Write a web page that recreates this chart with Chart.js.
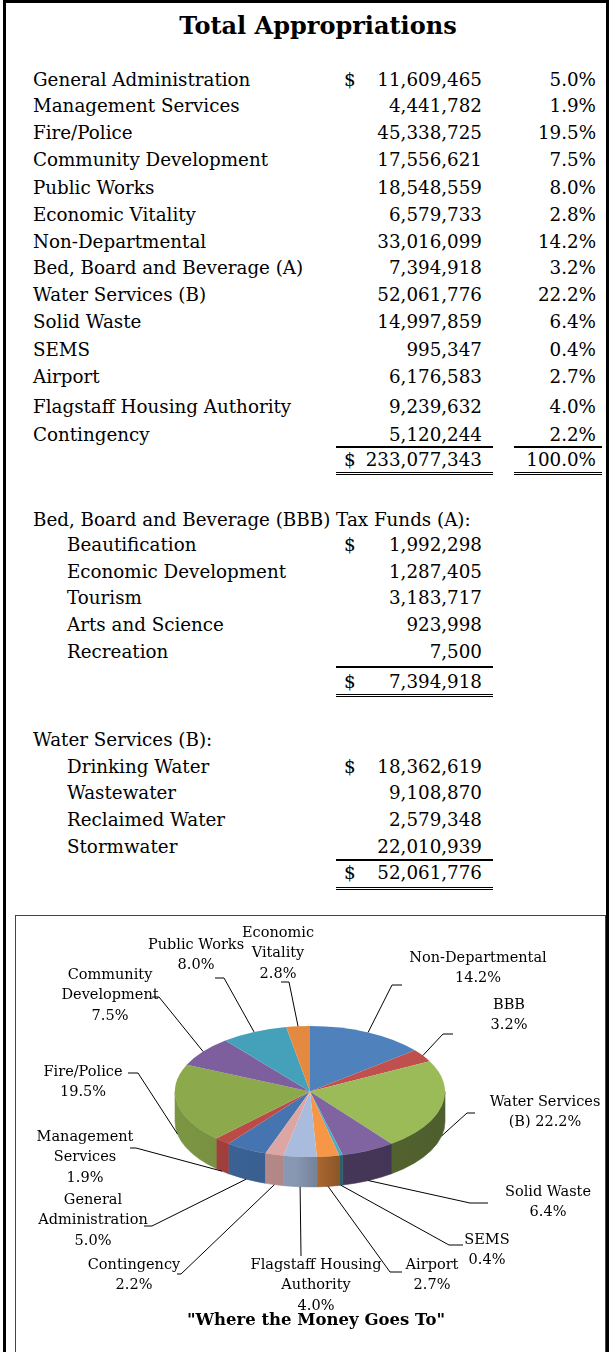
<!DOCTYPE html>
<html>
<head>
<meta charset="utf-8">
<script src="https://cdn.jsdelivr.net/npm/chart.js@4.4.0/dist/chart.umd.min.js"></script>
<style>
  html, body { margin: 0; padding: 0; background: #fff; }
  #page { position: relative; width: 613px; height: 1352px; overflow: hidden; font-family: "DejaVu Serif", serif; color: #000; }
  #frame { position: absolute; left: 3px; top: 0; width: 600px; height: 1400px; border: 3px solid #000; }
  .t { position: absolute; white-space: nowrap; font-size: 18.3px; line-height: 24px; }
  .r { text-align: right; width: 300px; }
  .hl { position: absolute; height: 0; border-top: 2px solid #000; }
  .dl { position: absolute; height: 1px; border-top: 1.5px solid #000; border-bottom: 1.5px solid #000; }
  #title { position: absolute; left: 0; width: 636px; top: 11px; line-height: 30px; text-align: center; font-weight: bold; font-size: 24px; }
  #box { position: absolute; left: 15px; top: 915px; width: 589px; height: 500px; border: 1px solid #444; }
  #pie { position: absolute; left: 15px; top: 915px; }
  #pieTitle { position: absolute; left: 0; width: 632px; top: 1310px; text-align: center; font-weight: bold; font-size: 16.5px; }
</style>
</head>
<body>
<div id="page">
  <div id="frame"></div>
  <div id="title">Total Appropriations</div>
  <div id="box"></div>
  <canvas id="pie" width="590" height="437"></canvas>
  <div id="pieTitle">"Where the Money Goes To"</div>
</div>
<script>
// Appropriations by department (table order)
const categories = [
  "General Administration", "Management Services", "Fire/Police", "Community Development",
  "Public Works", "Economic Vitality", "Non-Departmental", "Bed, Board and Beverage (A)",
  "Water Services (B)", "Solid Waste", "SEMS", "Airport", "Flagstaff Housing Authority", "Contingency"
];
const amounts = [
  11609465, 4441782, 45338725, 17556621, 18548559, 6579733, 33016099,
  7394918, 52061776, 14997859, 995347, 6176583, 9239632, 5120244
];
const shares = ["5.0%", "1.9%", "19.5%", "7.5%", "8.0%", "2.8%", "14.2%", "3.2%", "22.2%", "6.4%", "0.4%", "2.7%", "4.0%", "2.2%"];

// pie labels (same order as categories)
const pieLabelLines = [
  ["General", "Administration"], ["Management", "Services"], ["Fire/Police"], ["Community", "Development"],
  ["Public Works"], ["Economic", "Vitality"], ["Non-Departmental"], ["BBB"],
  ["Water Services", "(B)"], ["Solid Waste"], ["SEMS"], ["Airport"], ["Flagstaff Housing", "Authority"], ["Contingency"]
];

// BBB tax funds
const bbbItems = ["Beautification", "Economic Development", "Tourism", "Arts and Science", "Recreation"];
const bbbAmounts = [1992298, 1287405, 3183717, 923998, 7500];

// Water services
const waterItems = ["Drinking Water", "Wastewater", "Reclaimed Water", "Stormwater"];
const waterAmounts = [18362619, 9108870, 2579348, 22010939];

// ---- styles ----
const sliceColors = [
  "#4674B0", "#BC4A47", "#8CAA4C", "#7D5F9E", "#45A1B9", "#E38A40", "#4F81BD",
  "#C0504D", "#9BBB59", "#8064A2", "#4BACC6", "#F79646", "#A9BCDD", "#DCA6A5"
];
const SIDE_SHADE = [[0, 0.88], [0.45, 0.8], [0.62, 0.55], [1, 0.5]];
const TILT = 0.485;
const DEPTH = 30;
const BOX_X = 15, BOX_Y = 915;
const LABEL_FONT = '14.5px "DejaVu Serif"';
const LABEL_PITCH = 20.5;

// label placement (page coordinates): text centre, leader anchor, stub length
const labelLayout = [
  { x: 93,  y: 1200, ax: 152, ay: 1226, stub: -8 },
  { x: 85,  y: 1137, ax: 136, ay: 1148, stub: -6 },
  { x: 83,  y: 1072, ax: 138, ay: 1073, stub: -10 },
  { x: 110, y: 975,  ax: 159, ay: 997,  stub: -7 },
  { x: 196, y: 945,  ax: 224, ay: 978,  stub: -9 },
  { x: 278, y: 933,  ax: 289, ay: 982,  stub: -8 },
  { x: 478, y: 958,  ax: 392, ay: 985,  stub: 10 },
  { x: 509, y: 1005, ax: 443, ay: 1034, stub: 10 },
  { x: 545, y: 1102, ax: 467, ay: 1113, stub: 8, join: true },
  { x: 548, y: 1192, ax: 470, ay: 1203, stub: 18 },
  { x: 487, y: 1240, ax: 449, ay: 1245, stub: 14 },
  { x: 432, y: 1265, ax: 390, ay: 1272, stub: 12 },
  { x: 316, y: 1265, ax: 301, ay: 1256, stub: 0 },
  { x: 134, y: 1265, ax: 181, ay: 1274, stub: -4 }
];

const page = document.getElementById("page");
const fmt = (n) => n.toLocaleString("en-US");
const sum = (a) => a.reduce((s, v) => s + v, 0);

function put(text, x, y, right) {
  const d = document.createElement("div");
  d.className = right ? "t r" : "t";
  d.textContent = text;
  d.style.left = (right ? x - 300 : x) + "px";
  d.style.top = (y - 12) + "px";
  page.appendChild(d);
}
function hline(x1, x2, y) {
  const d = document.createElement("div");
  d.className = "hl";
  d.style.left = x1 + "px"; d.style.width = (x2 - x1) + "px"; d.style.top = (y - 1) + "px";
  page.appendChild(d);
}
function dline(x1, x2, y) {
  const d = document.createElement("div");
  d.className = "dl";
  d.style.left = x1 + "px"; d.style.width = (x2 - x1) + "px"; d.style.top = (y - 2) + "px";
  page.appendChild(d);
}

// main table
const mainRowY = [80, 106, 133, 160, 188, 215, 242, 268, 295, 322, 350, 377, 407, 435];
categories.forEach((c, i) => {
  put(c, 33, mainRowY[i]);
  if (i === 0) put("$", 344, mainRowY[i]);
  put(fmt(amounts[i]), 482, mainRowY[i], true);
  put(shares[i], 596, mainRowY[i], true);
});
hline(336, 493, 447); hline(514, 602, 447);
put("$", 344, 460);
put(fmt(sum(amounts)), 482, 460, true);
put("100.0%", 596, 460, true);
dline(336, 493, 474); dline(514, 602, 474);

// BBB section
put("Bed, Board and Beverage (BBB) Tax Funds (A):", 33, 520);
const bbbY = [545, 572, 598, 625, 652];
bbbItems.forEach((c, i) => {
  put(c, 67, bbbY[i]);
  if (i === 0) put("$", 344, bbbY[i]);
  put(fmt(bbbAmounts[i]), 482, bbbY[i], true);
});
hline(336, 493, 667);
put("$", 344, 682);
put(fmt(sum(bbbAmounts)), 482, 682, true);
dline(336, 493, 696);

// Water section
put("Water Services (B):", 33, 740);
const waterY = [767, 793, 820, 847];
waterItems.forEach((c, i) => {
  put(c, 67, waterY[i]);
  if (i === 0) put("$", 344, waterY[i]);
  put(fmt(waterAmounts[i]), 482, waterY[i], true);
});
hline(336, 493, 860);
put("$", 344, 873);
put(fmt(sum(waterAmounts)), 482, 873, true);
dline(336, 493, 889);

// ---- 3D pie ----
function shade(hex, f) {
  const n = parseInt(hex.slice(1), 16);
  const r = Math.round(((n >> 16) & 255) * f), g = Math.round(((n >> 8) & 255) * f), b = Math.round((n & 255) * f);
  return `rgb(${r},${g},${b})`;
}

const pie3d = {
  id: "pie3d",
  beforeDatasetsDraw(chart) {
    const ctx = chart.ctx;
    const arcs = chart.getDatasetMeta(0).data;
    const cx = arcs[0].x, cy = arcs[0].y, rx = arcs[0].outerRadius, ry = rx * TILT;
    arcs.forEach((arc, i) => {
      const grad = ctx.createLinearGradient(cx - rx, 0, cx + rx, 0);
      SIDE_SHADE.forEach(([stop, f]) => grad.addColorStop(stop, shade(sliceColors[i], f)));
      for (let k = -1; k <= 2; k++) {
        const lo = Math.max(arc.startAngle, 2 * Math.PI * k);
        const hi = Math.min(arc.endAngle, 2 * Math.PI * k + Math.PI);
        if (hi <= lo) continue;
        ctx.beginPath();
        ctx.ellipse(cx, cy, rx, ry, 0, lo, hi, false);
        ctx.ellipse(cx, cy + DEPTH, rx, ry, 0, hi, lo, true);
        ctx.closePath();
        ctx.fillStyle = grad;
        ctx.strokeStyle = grad;
        ctx.lineWidth = 0.6;
        ctx.fill();
        ctx.stroke();
      }
    });
    // squash the library's round pie into the tilted top face
    ctx.save();
    ctx.translate(cx, cy);
    ctx.scale(1, TILT);
    ctx.translate(-cx, -cy);
  },
  afterDatasetsDraw(chart) {
    chart.ctx.restore();
  },
  afterDraw(chart) {
    const ctx = chart.ctx;
    const arcs = chart.getDatasetMeta(0).data;
    const cx = arcs[0].x, cy = arcs[0].y, rx = arcs[0].outerRadius, ry = rx * TILT;
    ctx.save();
    ctx.font = LABEL_FONT;
    ctx.fillStyle = "#000";
    ctx.strokeStyle = "#000";
    ctx.lineWidth = 1;
    ctx.textAlign = "center";
    ctx.textBaseline = "middle";
    arcs.forEach((arc, i) => {
      const L = labelLayout[i];
      const mid = (arc.startAngle + arc.endAngle) / 2;
      const s = Math.sin(mid);
      const px = cx + rx * Math.cos(mid);
      const py = cy + ry * s + (s > 0 ? DEPTH : 0);
      const ax = L.ax - BOX_X, ay = L.ay - BOX_Y;
      ctx.beginPath();
      ctx.moveTo(px, py);
      ctx.lineTo(ax, ay);
      ctx.lineTo(ax + L.stub, ay);
      ctx.stroke();
      const lines = pieLabelLines[i].slice();
      if (L.join) lines[lines.length - 1] += " " + shares[i];
      else lines.push(shares[i]);
      lines.forEach((t, j) => ctx.fillText(t, L.x - BOX_X, L.y - BOX_Y + j * LABEL_PITCH));
    });
    ctx.restore();
  }
};

const startIndex = categories.indexOf("Non-Departmental");
const rotation = -360 * sum(amounts.slice(0, startIndex)) / sum(amounts);

new Chart(document.getElementById("pie"), {
  type: "pie",
  data: {
    labels: categories,
    datasets: [{
      data: amounts,
      backgroundColor: sliceColors,
      borderWidth: 0,
      hoverOffset: 0,
      offset: 0,
      clip: false
    }]
  },
  options: {
    responsive: false,
    animation: false,
    events: [],
    rotation: rotation,
    layout: { padding: { left: 160, right: 160, top: 41.5, bottom: 125.5 } },
    plugins: { legend: { display: false }, tooltip: { enabled: false }, title: { display: false } }
  },
  plugins: [pie3d]
});
</script>
</body>
</html>
